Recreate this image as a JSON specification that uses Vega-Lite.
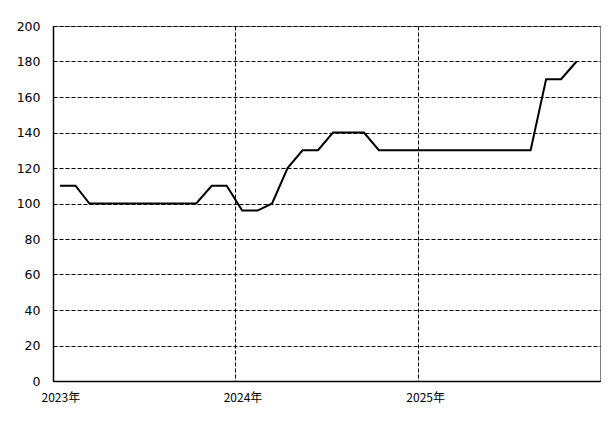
{
  "$schema": "https://vega.github.io/schema/vega-lite/v6.json",
  "width": 547,
  "height": 355,
  "autosize": "none",
  "padding": {"left": 53, "top": 26, "right": 15, "bottom": 43},
  "background": "#ffffff",
  "config": {
    "view": {"stroke": "#808080", "strokeWidth": 1},
    "axis": {
      "labelFont": "DejaVu Sans",
      "labelFontSize": 12.5,
      "labelColor": "#000000",
      "domainColor": "#000000",
      "domainWidth": 1.5,
      "ticks": false,
      "gridColor": "#000000",
      "gridDash": [4, 2],
      "gridWidth": 1,
      "gridOpacity": 1,
      "title": null
    }
  },
  "data": {
    "values": [
      {"date": "2023/01/15", "value": 110},
      {"date": "2023/02/15", "value": 110},
      {"date": "2023/03/15", "value": 100},
      {"date": "2023/04/15", "value": 100},
      {"date": "2023/05/15", "value": 100},
      {"date": "2023/06/15", "value": 100},
      {"date": "2023/07/15", "value": 100},
      {"date": "2023/08/15", "value": 100},
      {"date": "2023/09/15", "value": 100},
      {"date": "2023/10/15", "value": 100},
      {"date": "2023/11/15", "value": 110},
      {"date": "2023/12/15", "value": 110},
      {"date": "2024/01/15", "value": 96},
      {"date": "2024/02/15", "value": 96},
      {"date": "2024/03/15", "value": 100},
      {"date": "2024/04/15", "value": 120},
      {"date": "2024/05/15", "value": 130},
      {"date": "2024/06/15", "value": 130},
      {"date": "2024/07/15", "value": 140},
      {"date": "2024/08/15", "value": 140},
      {"date": "2024/09/15", "value": 140},
      {"date": "2024/10/15", "value": 130},
      {"date": "2024/11/15", "value": 130},
      {"date": "2024/12/15", "value": 130},
      {"date": "2025/01/15", "value": 130},
      {"date": "2025/02/15", "value": 130},
      {"date": "2025/03/15", "value": 130},
      {"date": "2025/04/15", "value": 130},
      {"date": "2025/05/15", "value": 130},
      {"date": "2025/06/15", "value": 130},
      {"date": "2025/07/15", "value": 130},
      {"date": "2025/08/15", "value": 130},
      {"date": "2025/09/15", "value": 170},
      {"date": "2025/10/15", "value": 170},
      {"date": "2025/11/15", "value": 180}
    ]
  },
  "mark": {"type": "line", "color": "#000000", "strokeWidth": 2, "interpolate": "linear"},
  "encoding": {
    "x": {
      "field": "date",
      "type": "temporal",
      "scale": {"domain": [{"year": 2023, "month": 1, "date": 1}, {"year": 2026, "month": 1, "date": 1}]},
      "axis": {
        "values": [{"year": 2023, "month": 1, "date": 1}, {"year": 2024, "month": 1, "date": 1}, {"year": 2025, "month": 1, "date": 1}],
        "format": "%Y年",
        "labelAlign": "left",
        "labelFlush": false,
        "labelOffset": -12,
        "labelPadding": 11,
        "labelFont": "Noto Sans CJK JP",
        "labelFontSize": 12
      }
    },
    "y": {
      "field": "value",
      "type": "quantitative",
      "scale": {"domain": [0, 200], "nice": false},
      "axis": {
        "values": [0, 20, 40, 60, 80, 100, 120, 140, 160, 180, 200],
        "labelPadding": 13,
        "labelFlush": false
      }
    }
  }
}
